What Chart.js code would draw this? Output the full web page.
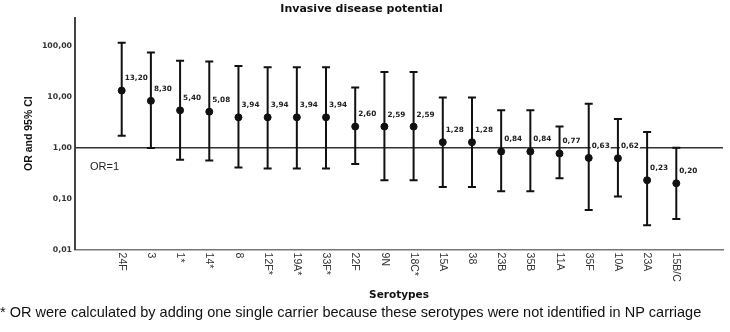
<!DOCTYPE html>
<html>
<head>
<meta charset="utf-8">
<script src="https://cdn.jsdelivr.net/npm/chart.js@4.4.1/dist/chart.umd.min.js"></script>
<style>
  body { margin: 0; background: #fff; }
  #wrap { width: 730px; height: 332px; }
</style>
</head>
<body>
<div id="wrap"><canvas id="chart_or"></canvas></div>
<script>
var serotypes = ['24F', '3', '1*', '14*', '8', '12F*', '19A*', '33F*', '22F', '9N', '18C*', '15A', '38', '23B', '35B', '11A', '35F', '10A', '23A', '15B/C']
var or_values = [13.20, 8.30, 5.40, 5.08, 3.94, 3.94, 3.94, 3.94, 2.60, 2.59, 2.59, 1.28, 1.28, 0.84, 0.84, 0.77, 0.63, 0.62, 0.23, 0.20]
var ci_lower = [1.72, 0.99, 0.58, 0.56, 0.41, 0.39, 0.39, 0.39, 0.48, 0.23, 0.23, 0.17, 0.17, 0.14, 0.14, 0.25, 0.06, 0.11, 0.03, 0.04]
var ci_upper = [114, 74, 51, 49, 40, 38, 38, 38, 15.2, 30.5, 30.5, 9.6, 9.6, 5.4, 5.4, 2.6, 7.3, 3.65, 2.03, 1.0]
var y_ticks = [0.01, 0.1, 1, 10, 100]
var ref_value = 1

function fmt(v) {
    return v.toFixed(2).replace('.', ',')
}

// whiskers: one segment per serotype, broken by null
var whiskers = []
var caps = []
var points = []
serotypes.forEach((s, i) => {
    whiskers.push({x: i, y: ci_lower[i]}, {x: i, y: ci_upper[i]}, {x: i, y: null})
    caps.push({x: i, y: ci_lower[i]}, {x: i, y: ci_upper[i]})
    points.push({x: i, y: or_values[i]})
})

var refLine = {
    id: 'refLine',
    beforeDatasetsDraw(chart) {
        const ctx = chart.ctx
        const area = chart.chartArea
        const y = chart.scales.y.getPixelForValue(ref_value)
        ctx.save()
        ctx.strokeStyle = '#333'
        ctx.lineWidth = 1.5
        ctx.beginPath()
        ctx.moveTo(area.left, y)
        ctx.lineTo(area.right, y)
        ctx.stroke()
        ctx.fillStyle = '#222'
        ctx.font = '11px Arial'
        ctx.textBaseline = 'middle'
        ctx.fillText('OR=1', area.left + 15, y + 19)
        ctx.restore()
    }
}

var valueLabels = {
    id: 'valueLabels',
    afterDatasetsDraw(chart) {
        const ctx = chart.ctx
        const xs = chart.scales.x
        const ys = chart.scales.y
        ctx.save()
        ctx.font = 'bold 7.3px "DejaVu Sans"'
        ctx.textBaseline = 'middle'
        or_values.forEach((v, i) => {
            const px = xs.getPixelForValue(i)
            const py = ys.getPixelForValue(v) - 12
            const txt = fmt(v)
            const w = ctx.measureText(txt).width
            ctx.fillStyle = '#fff'
            ctx.fillRect(px + 2, py - 5, w + 2, 10)
            ctx.fillStyle = '#222'
            ctx.fillText(txt, px + 3, py)
        })
        // x labels, turned clockwise
        ctx.font = '10.5px Arial'
        ctx.fillStyle = '#333'
        ctx.textAlign = 'left'
        const top = chart.chartArea.bottom + 3
        serotypes.forEach((s, i) => {
            ctx.save()
            ctx.translate(xs.getPixelForValue(i), top)
            ctx.rotate(Math.PI / 2)
            ctx.fillText(s, 0, 0)
            ctx.restore()
        })
        ctx.restore()
    }
}

var ctx = document.getElementById('chart_or')

var chartOR = new Chart(ctx, {
    type: 'scatter',
    data: {
        datasets: [
            {
                data: whiskers,
                showLine: true,
                spanGaps: false,
                borderColor: '#111',
                borderWidth: 2,
                pointRadius: 0
            },
            {
                data: caps,
                pointStyle: 'line',
                pointRadius: 4,
                borderColor: '#111',
                borderWidth: 2
            },
            {
                data: points,
                pointStyle: 'circle',
                pointRadius: 3.5,
                backgroundColor: '#111',
                borderColor: '#111',
                borderWidth: 1
            }
        ]
    },
    options: {
        responsive: true,
        maintainAspectRatio: false,
        animation: false,
        events: [],
        layout: {
            padding: {left: 0, right: 7, top: 0, bottom: 0}
        },
        plugins: {
            legend: { display: false },
            tooltip: { enabled: false },
            title: {
                display: true,
                text: 'Invasive disease potential',
                color: '#111',
                font: { family: 'DejaVu Sans', size: 11, weight: 'bold' },
                padding: { top: 3, bottom: 1.5 }
            },
            subtitle: {
                display: true,
                position: 'bottom',
                align: 'start',
                text: '* OR were calculated by adding one single carrier because these serotypes were not identified in NP carriage',
                color: '#111',
                font: { family: 'Arial', size: 14.5 },
                padding: { top: 3, bottom: 10 }
            }
        },
        scales: {
            x: {
                type: 'linear',
                min: -1.6,
                max: 20.6,
                grid: { display: false },
                border: { color: '#777', width: 1.5 },
                ticks: { display: false },
                title: {
                    display: true,
                    text: 'Serotypes',
                    color: '#111',
                    font: { family: 'DejaVu Sans', size: 10.5, weight: 'bold' },
                    padding: { top: 0, bottom: 0 }
                },
                afterFit: function(scale) {
                    scale.height = 52
                }
            },
            y: {
                type: 'logarithmic',
                min: 0.01,
                max: 355,
                grid: { display: false, drawTicks: false },
                border: { color: '#444', width: 2 },
                afterBuildTicks: function(scale) {
                    scale.ticks = y_ticks.map(v => ({ value: v }))
                },
                ticks: {
                    padding: 3,
                    color: '#333',
                    font: { family: 'DejaVu Sans', size: 7.8, weight: 'bold' },
                    callback: function(value) {
                        return fmt(value)
                    }
                },
                title: {
                    display: true,
                    text: 'OR and 95% CI',
                    color: '#111',
                    font: { family: 'Arial', size: 10.5, weight: 'bold' },
                    padding: { top: 23, bottom: 0 }
                },
                afterFit: function(scale) {
                    scale.width = 75
                }
            }
        }
    },
    plugins: [refLine, valueLabels]
});
</script>
</body>
</html>
